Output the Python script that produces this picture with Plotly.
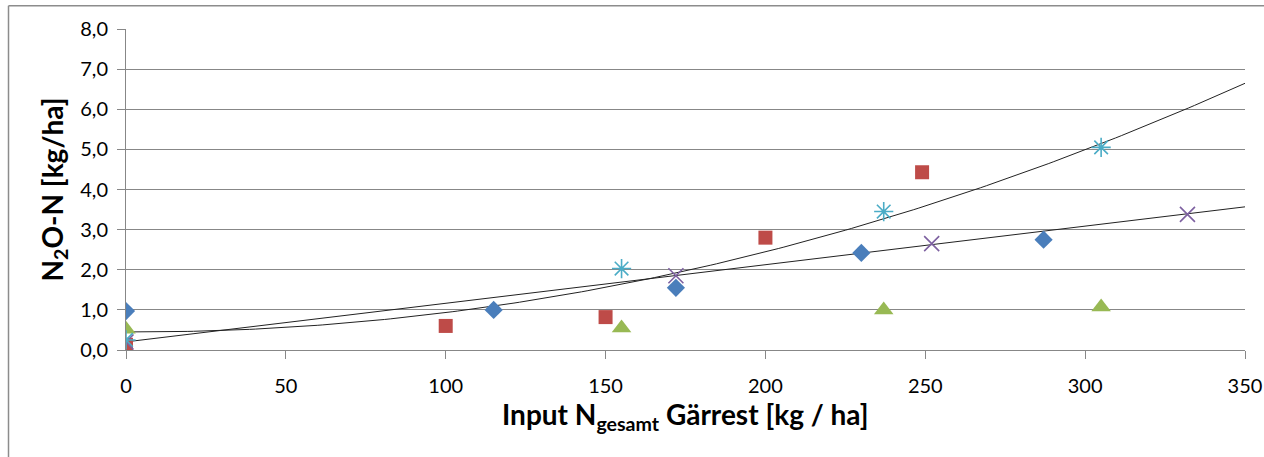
import numpy as np
import plotly.graph_objects as go

# Data
blue_x = [0, 115, 172, 230, 287]
blue_y = [0.97, 1.00, 1.55, 2.42, 2.75]

red_x = [0, 100, 150, 200, 249]
red_y = [0.13, 0.60, 0.82, 2.80, 4.43]

green_x = [0, 155, 237, 305]
green_y = [0.52, 0.55, 1.00, 1.07]

cyan_x = [0, 155, 237, 305]
cyan_y = [0.25, 2.03, 3.45, 5.05]

purple_x = [0, 172, 252, 332]
purple_y = [0.20, 1.85, 2.65, 3.38]

# polynomial trendline (2nd order) coefficients: c2, c1, c0
quad_trend = [5.15e-5, -0.00032, 0.45]

x_ticks = [0, 50, 100, 150, 200, 250, 300, 350]
y_ticks = [0, 1, 2, 3, 4, 5, 6, 7, 8]

FONT = "Lato"
GRID = "#878787"

fig = go.Figure()

xs = np.linspace(0, 350, 200)
lin = np.polyfit(purple_x, purple_y, 1)
fig.add_trace(go.Scatter(x=xs, y=np.polyval(quad_trend, xs), mode="lines",
                         line=dict(color="#222222", width=1), hoverinfo="skip"))
fig.add_trace(go.Scatter(x=xs, y=np.polyval(lin, xs), mode="lines",
                         line=dict(color="#222222", width=1), hoverinfo="skip"))

fig.add_trace(go.Scatter(x=blue_x, y=blue_y, mode="markers",
                         marker=dict(symbol="diamond", size=14, color="#4A7EBB",
                                     line=dict(width=0))))
fig.add_trace(go.Scatter(x=red_x, y=red_y, mode="markers",
                         marker=dict(symbol="square", size=14, color="#BE4B48",
                                     line=dict(width=0))))
fig.add_trace(go.Scatter(x=green_x, y=green_y, mode="markers",
                         marker=dict(symbol="triangle-up", size=17, color="#98B954",
                                     line=dict(width=0))))
fig.add_trace(go.Scatter(x=purple_x, y=purple_y, mode="markers",
                         marker=dict(symbol="x-thin-open", size=15, color="#7D60A0",
                                     line=dict(width=1.6, color="#7D60A0"))))
fig.add_trace(go.Scatter(x=cyan_x, y=cyan_y, mode="markers",
                         marker=dict(symbol="asterisk-open", size=16, color="#4BACC6",
                                     line=dict(width=1.6, color="#4BACC6"))))

fig.update_layout(
    width=1264, height=457,
    margin=dict(l=126, r=19, t=29, b=107),
    paper_bgcolor="white", plot_bgcolor="white",
    showlegend=False,
    separators=", ",
    font=dict(family=FONT, size=20, color="#000000"),
    xaxis=dict(
        range=[0, 350], tickvals=x_ticks, ticks="outside", ticklen=8,
        tickcolor=GRID, showgrid=False, zeroline=False, automargin=False,
        showline=True, linecolor=GRID, linewidth=1, ticklabelstandoff=10,
        tickfont=dict(family=FONT, size=20),
    ),
    yaxis=dict(
        range=[0, 8], tickvals=y_ticks, tickformat=".1f", ticks="outside",
        ticklen=8, tickcolor=GRID, showgrid=True, gridcolor=GRID, gridwidth=1,
        zeroline=False, showline=True, linecolor=GRID, linewidth=1,
        automargin=False, ticklabelstandoff=5,
        tickfont=dict(family=FONT, size=20),
    ),
    annotations=[
        dict(text="<b>Input N<sub>gesamt</sub> Gärrest [kg / ha]</b>",
             xref="paper", yref="paper", x=0.5, y=-0.206,
             xanchor="center", yanchor="middle", showarrow=False,
             font=dict(family=FONT, size=28)),
        dict(text="<b>N<sub>2</sub>O-N [kg/ha]</b>",
             xref="paper", yref="paper", x=-0.0652, y=0.5, textangle=-90,
             xanchor="center", yanchor="middle", showarrow=False,
             font=dict(family=FONT, size=28)),
    ],
    shapes=[
        dict(type="line", xref="paper", yref="paper",
             x0=-0.105, x1=-0.105, y0=-0.5, y1=1.0726,
             line=dict(color="#8C8C8C", width=1.5), layer="below"),
        dict(type="line", xref="paper", yref="paper",
             x0=-0.105, x1=1.1, y0=1.0726, y1=1.0726,
             line=dict(color="#8C8C8C", width=1.5), layer="below"),
    ],
)

fig.write_html("out.html")
